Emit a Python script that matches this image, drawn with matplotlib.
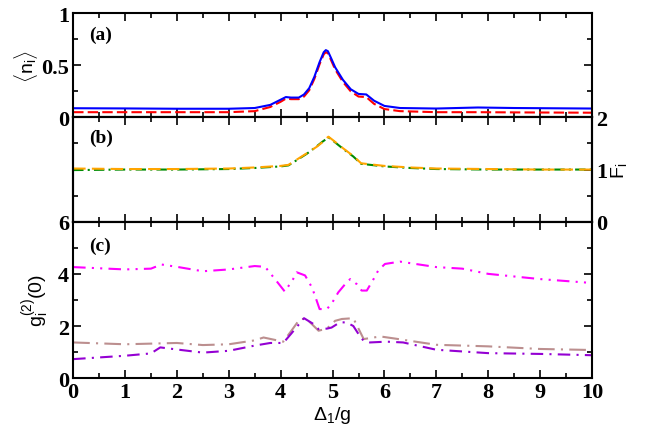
import matplotlib
matplotlib.use("Agg")
import matplotlib.pyplot as plt
from matplotlib.ticker import MultipleLocator

plt.rcParams['mathtext.fontset'] = 'custom'
plt.rcParams['mathtext.rm'] = 'Liberation Sans'
plt.rcParams['mathtext.it'] = 'Liberation Sans:italic'

# panel (a): mean occupation
xa = [0, 1, 2, 3, 3.5, 3.8, 4.0, 4.1, 4.2, 4.35, 4.45, 4.55, 4.65, 4.75, 4.83,
      4.87, 4.91, 4.97, 5.05, 5.2, 5.35, 5.5, 5.65, 5.8, 6.0, 6.3, 7, 7.8, 8.5, 10]
n1 = [0.088, 0.086, 0.083, 0.083, 0.09, 0.12, 0.17, 0.195, 0.19, 0.19, 0.22, 0.28,
      0.39, 0.53, 0.625, 0.645, 0.635, 0.57, 0.48, 0.36, 0.27, 0.225, 0.22, 0.16,
      0.11, 0.09, 0.085, 0.095, 0.09, 0.085]
n2 = [0.05, 0.05, 0.05, 0.05, 0.06, 0.10, 0.15, 0.18, 0.175, 0.175, 0.20, 0.26,
      0.37, 0.51, 0.605, 0.625, 0.615, 0.55, 0.46, 0.34, 0.25, 0.20, 0.195, 0.13,
      0.08, 0.06, 0.05, 0.05, 0.048, 0.045]

# panel (b): Fano factor
xb = [0, 1, 2, 3, 3.5, 4.0, 4.15, 4.5, 4.7, 4.8, 4.87, 4.92, 5.0, 5.2, 5.4, 5.55,
      6.0, 6.5, 7, 8, 9, 10]
f1 = [0.99, 1.0, 1.0, 1.01, 1.03, 1.06, 1.08, 1.30, 1.45, 1.53, 1.58, 1.62, 1.56,
      1.40, 1.25, 1.11, 1.06, 1.03, 1.01, 1.0, 1.0, 1.0]
f2 = [1.02, 1.01, 1.01, 1.02, 1.04, 1.07, 1.09, 1.31, 1.44, 1.52, 1.59, 1.63, 1.57,
      1.41, 1.26, 1.12, 1.07, 1.04, 1.02, 1.01, 1.0, 1.0]

# panel (c): g2(0)
xc1 = [0, 1, 1.5, 1.7, 2, 2.5, 3, 3.5, 3.7, 3.89, 4.08, 4.24, 4.31, 4.47, 4.6,
       4.66, 4.75, 4.89, 4.98, 5.11, 5.24, 5.34, 5.47, 5.56, 5.66, 5.79, 5.88,
       6.01, 6.3, 7, 7.5, 8, 8.5, 9, 10]
g_mag = [4.26, 4.17, 4.2, 4.36, 4.27, 4.1, 4.17, 4.3, 4.27, 3.8, 3.32, 3.8, 4.06,
         3.94, 3.49, 3.17, 2.65, 2.65, 2.85, 3.29, 3.6, 3.8, 3.6, 3.36, 3.36, 3.8,
         4.13, 4.38, 4.47, 4.26, 4.2, 4.0, 3.9, 3.8, 3.65]
xc2 = [0, 1, 2, 2.5, 3, 3.5, 3.67, 4.05, 4.2, 4.37, 4.5, 4.73, 4.89, 5.05, 5.18,
       5.4, 5.6, 5.92, 6.2, 7, 8, 9, 10]
g_brn = [1.37, 1.3, 1.35, 1.27, 1.3, 1.45, 1.56, 1.4, 1.8, 2.27, 2.27, 1.82, 1.9,
         2.2, 2.27, 2.3, 1.5, 1.6, 1.52, 1.28, 1.22, 1.12, 1.08]
xc3 = [0, 1, 1.5, 1.68, 2, 2.5, 3, 3.5, 3.8, 4.05, 4.2, 4.45, 4.63, 4.73, 4.89,
       4.98, 5.14, 5.27, 5.4, 5.53, 5.6, 5.72, 6.04, 6.36, 7, 8, 9, 10]
g_vio = [0.73, 0.86, 0.95, 1.18, 1.1, 0.98, 1.05, 1.25, 1.35, 1.35, 1.7, 2.3, 2.08,
         1.88, 1.9, 1.94, 2.14, 2.14, 2.0, 1.6, 1.43, 1.37, 1.4, 1.37, 1.09, 0.96,
         0.93, 0.88]

fig, (ax1, ax2, ax3) = plt.subplots(3, 1, figsize=(6.47, 4.27), dpi=100, sharex=True,
                                    gridspec_kw={'height_ratios': [2, 2, 3]})
fig.subplots_adjust(left=0.113, right=0.915, top=0.967, bottom=0.112, hspace=0)

lw = 1.5
ax1.plot(xa, n2, color='red', lw=lw, dashes=(5, 2))
ax1.plot(xa, n1, color='blue', lw=lw)

ax2b = ax2.twinx()
ax2b.plot(xb, f1, color='#008b00', lw=lw, dashes=(5, 2, 1, 2))
ax2b.plot(xb, f2, color='orange', lw=lw, dashes=(6, 3))

ax3.plot(xc1, g_mag, color='magenta', lw=lw, dashes=(6, 3, 1, 3, 1, 3))
ax3.plot(xc2, g_brn, color='#bc8f8f', lw=lw, dashes=(8, 3, 1, 3))
ax3.plot(xc3, g_vio, color='#9400d3', lw=lw, dashes=(6, 3, 1, 3))

tickfont = {'family': 'Liberation Serif', 'weight': 'bold', 'size': 16}

for ax in (ax1, ax2, ax2b, ax3):
    ax.set_xlim(0, 10)
    for s in ax.spines.values():
        s.set_linewidth(1.5)
    ax.xaxis.set_major_locator(MultipleLocator(1))
    ax.xaxis.set_minor_locator(MultipleLocator(0.5))
    ax.tick_params(which='both', direction='in', top=True, width=1.2, pad=3)
    ax.tick_params(which='major', length=6)
    ax.tick_params(which='minor', length=3.5)

ax1.set_ylim(0, 1)
ax1.set_yticks([0, 0.5, 1])
ax1.set_yticklabels(['0', '0.5', '1'], fontdict=tickfont)
ax1.yaxis.set_minor_locator(MultipleLocator(0.25))
ax1.tick_params(which='both', right=True)

ax2.set_ylim(0, 2)
ax2.yaxis.set_major_locator(MultipleLocator(1))
ax2.yaxis.set_minor_locator(MultipleLocator(0.5))
ax2.tick_params(which='both', labelleft=False)
ax2b.set_ylim(0, 2)
ax2b.set_yticks([0, 1, 2])
ax2b.set_yticklabels(['0', '1', '2'], fontdict=tickfont)
ax2b.yaxis.set_minor_locator(MultipleLocator(0.5))
ax2b.set_ylabel(r'$\mathrm{F}_\mathrm{i}$', fontsize=14, rotation=90, labelpad=1)

ax3.set_ylim(0, 6)
ax3.set_yticks([0, 2, 4, 6])
ax3.set_yticklabels(['0', '2', '4', '6'], fontdict=tickfont)
ax3.yaxis.set_minor_locator(MultipleLocator(1))
ax3.tick_params(which='both', right=True)
ax3.set_xticks(range(11))
ax3.set_xticklabels([str(i) for i in range(11)], fontdict=tickfont)
ax3.set_xlabel(r'$\Delta_\mathrm{1}/\mathrm{g}$', fontsize=14, labelpad=1)

ax1.tick_params(labelbottom=False)
ax2.tick_params(labelbottom=False)

ax1.set_ylabel(r'$\langle\mathrm{n}_\mathrm{i}\rangle$', fontsize=14, labelpad=1)
ax3.set_ylabel(r'$\mathrm{g}_\mathrm{i}^{(2)}(0)$', fontsize=14, labelpad=4)

lab = {'family': 'Liberation Serif', 'weight': 'bold', 'size': 14}
ax1.text(0.03, 0.8, '(a)', transform=ax1.transAxes, va='center', fontdict=lab)
ax2.text(0.03, 0.81, '(b)', transform=ax2.transAxes, va='center', fontdict=lab)
ax3.text(0.03, 0.85, '(c)', transform=ax3.transAxes, va='center', fontdict=lab)

fig.savefig('out.png', dpi=100)
